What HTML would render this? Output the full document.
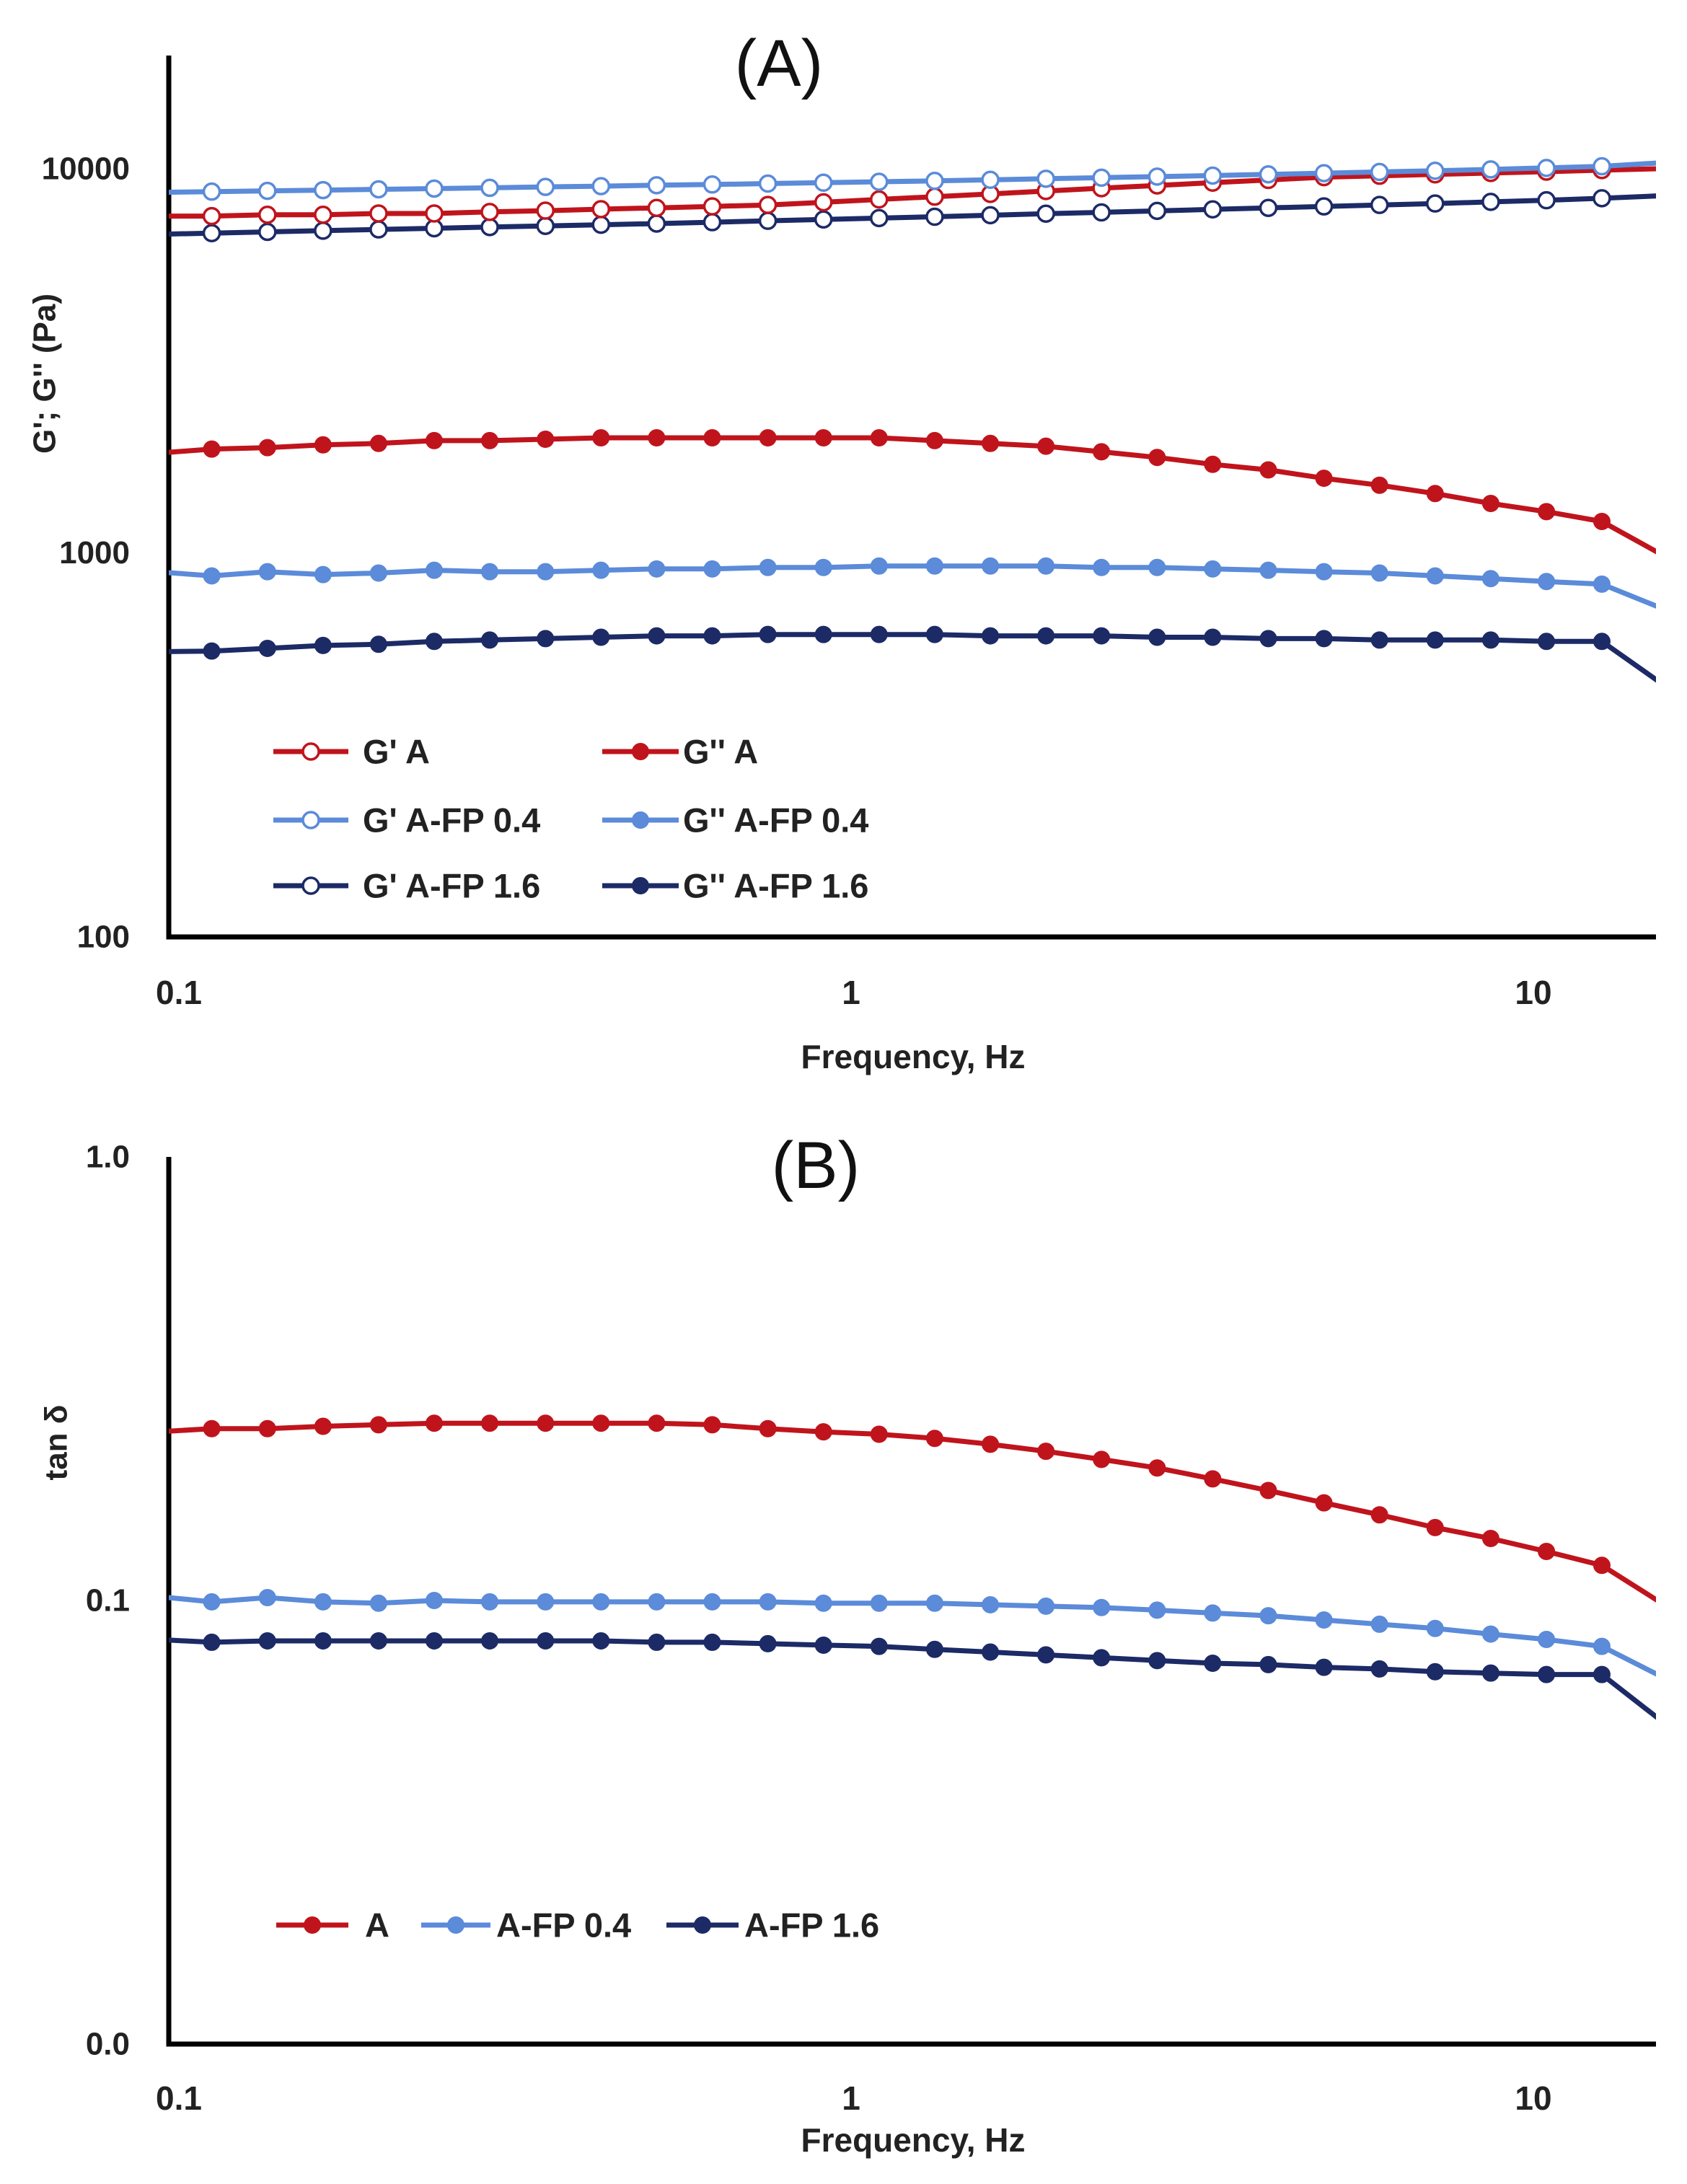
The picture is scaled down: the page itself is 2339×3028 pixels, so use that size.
<!DOCTYPE html>
<html><head><meta charset="utf-8"><style>
html,body{margin:0;padding:0;background:#fff}
svg{display:block}
text{font-family:"Liberation Sans",sans-serif}
</style></head><body>
<svg id="chart" width="2339" height="3028" viewBox="0 0 2339 3028" xmlns="http://www.w3.org/2000/svg">
<defs>
<clipPath id="clipA"><rect x="234" y="60" width="2062" height="1245"/></clipPath>
<clipPath id="clipB"><rect x="234" y="1590" width="2062" height="1250"/></clipPath>
</defs>
<g id="panelA"></g>
<g id="panelB"></g>
</svg>
<script>
const freq = [0.0958,0.1156,0.1395,0.1683,0.2030,0.2449,0.2954,0.3565,0.4300,0.5188,0.6259,0.7551,0.9110,1.099,1.326,1.600,1.930,2.328,2.809,3.388,4.088,4.932,5.950,7.178,8.660,10.45,12.60,15.2];
const gpA = [7530,7530,7590,7590,7650,7650,7720,7780,7850,7910,7980,8050,8180,8320,8460,8600,8750,8900,9050,9200,9350,9510,9590,9670,9750,9830,9920,10000];
const gpFP04 = [8680,8720,8760,8800,8840,8880,8920,8970,9010,9060,9100,9150,9200,9250,9300,9360,9420,9480,9540,9600,9670,9740,9810,9880,9960,10050,10150,10350];
const gpFP16 = [6750,6800,6850,6900,6950,7000,7050,7100,7150,7200,7260,7320,7380,7440,7500,7570,7640,7700,7770,7840,7910,7980,8050,8120,8200,8280,8380,8500];
const gppA = [1817,1863,1879,1911,1927,1960,1960,1976,1993,1993,1993,1993,1993,1993,1960,1927,1895,1833,1772,1700,1644,1564,1500,1427,1345,1280,1207,1004];
const gppFP04 = [893,871,893,878,886,901,893,893,901,908,908,916,916,924,924,924,924,916,916,908,901,893,886,871,857,842,829,725];
const gppFP16 = [553,555,564,574,578,588,593,598,603,608,608,613,613,613,613,608,608,608,603,603,598,598,593,593,593,588,588,465];
const tanA = [0.240,0.244,0.244,0.247,0.249,0.251,0.251,0.251,0.251,0.251,0.249,0.244,0.240,0.237,0.232,0.225,0.217,0.208,0.199,0.188,0.177,0.166,0.156,0.146,0.138,0.129,0.120,0.100];
const tanFP04 = [0.1022,0.0993,0.1015,0.0993,0.0986,0.1,0.0993,0.0993,0.0993,0.0993,0.0993,0.0993,0.0986,0.0986,0.0986,0.0978,0.0971,0.0964,0.0951,0.0937,0.0924,0.0904,0.0884,0.0865,0.0840,0.0817,0.0788,0.0681];
const tanFP16 = [0.0817,0.0805,0.0811,0.0811,0.0811,0.0811,0.0811,0.0811,0.0811,0.0805,0.0805,0.0799,0.0793,0.0788,0.0776,0.0765,0.0754,0.0743,0.0732,0.0722,0.0717,0.0707,0.0701,0.0691,0.0686,0.0681,0.0681,0.0544];
const xTicks = [0.1,1,10];
const xTickLabels = ["0.1","1","10"];
const yTicksA = [100,1000,10000];
const yTickLabelsA = ["100","1000","10000"];
const yTicksB = [0.01,0.1,1];
const yTickLabelsB = ["0.0","0.1","1.0"];

const RED="#c0141c", LBLUE="#5b8bd9", NAVY="#1c2a66";
const NS="http://www.w3.org/2000/svg";
function xs(f){return 234+(Math.log10(f)+1)*946;}
function yA(v){return 234+(4-Math.log10(v))*532.5;}
function yB(v){return 1604+(0-Math.log10(v))*615;}
function mk(tag,attrs,parent){const e=document.createElementNS(NS,tag);for(const k in attrs)e.setAttribute(k,attrs[k]);parent.appendChild(e);return e;}
function txt(s,attrs,parent){const e=mk('text',attrs,parent);e.textContent=s;return e;}

function series(parent,clip,vals,ys,color,filled,name){
  const g=mk('g',{'clip-path':'url(#'+clip+')'},parent);
  
  
  let d='';
  vals.forEach((v,i)=>{d+=(i?'L':'M')+xs(freq[i]).toFixed(1)+','+ys(v).toFixed(1);});
  const p=mk('path',{d:d,fill:'none',stroke:color,'stroke-width':7,'stroke-linejoin':'round'},g);
  
  
  for(let i=1;i<vals.length-1;i++){
    const c=mk('circle',{cx:xs(freq[i]),cy:ys(vals[i]),r:11,fill:filled?color:'#fff',stroke:color,'stroke-width':filled?2:3.5},g);
    
    
  }
}
function legend(parent,x1,x2,y,tx,label,color,filled,name){
  const g=mk('g',{},parent);
  
  
  mk('line',{x1:x1,x2:x2,y1:y,y2:y,stroke:color,'stroke-width':7},g);
  mk('circle',{cx:(x1+x2)/2,cy:y,r:11,fill:filled?color:'#fff',stroke:color,'stroke-width':filled?2:3.5},g);
  txt(label,{x:tx,y:y,'font-size':47,'font-weight':'bold','dominant-baseline':'central',fill:'#222'},g);
}
function axes(parent,top,bottom,yTicks,yLabels,yfn,xLabY,freqY,name){
  const ax=mk('path',{d:'M234,'+top+'V'+bottom+'H2296',fill:'none',stroke:'#000','stroke-width':7},parent);
  
  
  yTicks.forEach((t,i)=>{
    const e=txt(yLabels[i],{x:180,y:yfn(t),'font-size':44,'font-weight':'bold','text-anchor':'end','dominant-baseline':'central',fill:'#222'},parent);
    
    
  });
  xTicks.forEach((t,i)=>{
    const e=txt(xTickLabels[i],{x:xs(t)+(i==0?14:0),y:xLabY,'font-size':46,'font-weight':'bold','text-anchor':'middle','dominant-baseline':'central',fill:'#222'},parent);
    
    
  });
  const f=txt('Frequency, Hz',{x:1266,y:freqY,'font-size':46,'font-weight':'bold','text-anchor':'middle','dominant-baseline':'central',fill:'#222'},parent);
  
  
}

const A=document.getElementById('panelA');
axes(A,77,1299,yTicksA,yTickLabelsA,yA,1376,1465,'panel-a');
let t=txt('(A)',{x:1080,y:88,'font-size':92,'text-anchor':'middle','dominant-baseline':'central',fill:'#111'},A);


t=txt("G'; G'' (Pa)",{x:0,y:0,'font-size':44,'font-weight':'bold','text-anchor':'middle','dominant-baseline':'central',fill:'#222',transform:'translate(62,518) rotate(-90)'},A);


series(A,'clipA',gppFP16,yA,NAVY,true,'series-gpp-a-fp16');
series(A,'clipA',gppFP04,yA,LBLUE,true,'series-gpp-a-fp04');
series(A,'clipA',gppA,yA,RED,true,'series-gpp-a');
series(A,'clipA',gpFP16,yA,NAVY,false,'series-gp-a-fp16');
series(A,'clipA',gpA,yA,RED,false,'series-gp-a');
series(A,'clipA',gpFP04,yA,LBLUE,false,'series-gp-a-fp04');
legend(A,379,483,1042,503,"G' A",RED,false,'legend-gp-a');
legend(A,835,941,1042,947,"G'' A",RED,true,'legend-gpp-a');
legend(A,379,483,1137,503,"G' A-FP 0.4",LBLUE,false,'legend-gp-a-fp04');
legend(A,835,941,1137,947,"G'' A-FP 0.4",LBLUE,true,'legend-gpp-a-fp04');
legend(A,379,483,1228,503,"G' A-FP 1.6",NAVY,false,'legend-gp-a-fp16');
legend(A,835,941,1228,947,"G'' A-FP 1.6",NAVY,true,'legend-gpp-a-fp16');

const B=document.getElementById('panelB');
axes(B,1604,2834,yTicksB,yTickLabelsB,yB,2909,2967,'panel-b');
t=txt('(B)',{x:1131,y:1616,'font-size':92,'text-anchor':'middle','dominant-baseline':'central',fill:'#111'},B);


t=txt('tan δ',{x:0,y:0,'font-size':44,'font-weight':'bold','text-anchor':'middle','dominant-baseline':'central',fill:'#222',transform:'translate(78,2000) rotate(-90)'},B);


series(B,'clipB',tanFP16,yB,NAVY,true,'series-tan-a-fp16');
series(B,'clipB',tanFP04,yB,LBLUE,true,'series-tan-a-fp04');
series(B,'clipB',tanA,yB,RED,true,'series-tan-a');
legend(B,383,483,2669,506,"A",RED,true,'legend-tan-a');
legend(B,584,680,2669,688,"A-FP 0.4",LBLUE,true,'legend-tan-a-fp04');
legend(B,924,1024,2669,1032,"A-FP 1.6",NAVY,true,'legend-tan-a-fp16');
</script>
</body></html>
